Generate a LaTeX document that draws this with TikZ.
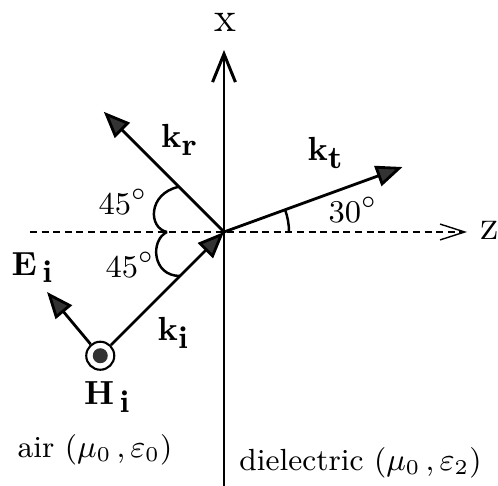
\documentclass[tikz,border=0pt]{standalone}
\usetikzlibrary{arrows.meta}
\tikzset{
  wavearr/.style  = {-{Triangle[length=7.5pt,width=6pt,fill=black!80]},line width=0.8pt},
  axisbar/.style  = {-{Straight Barb[length=8pt,width=6.5pt]},line width=0.85pt},
  axisdash/.style = {-{Straight Barb[length=7pt,width=4.5pt]},line width=0.4pt,dash pattern=on 2pt off 1.3pt},
  anglearc/.style = {line width=0.7pt},
  hsym/.style     = {circle,draw,line width=0.6pt,minimum size=0.28cm,inner sep=0pt},
  medium/.style   = {font=\fontsize{8.7}{10}\selectfont}
}
\newcommand{\bvec}[2]{\textbf{#1}\raisebox{-0.5ex}{\small\textbf{#2}}}

\begin{document}
\begin{tikzpicture}[x=0.01cm,y=0.01cm,font=\fontsize{9.5}{11}\selectfont]
  \useasboundingbox (-224,-254) rectangle (274,232);
  \coordinate (O) at (0,0);
  \coordinate (zbeg) at (-194,0);
  \coordinate (ztip) at (243,0);
  \coordinate (xbot) at (0,-254);
  \coordinate (xtip) at (0,182);
  \coordinate (kr) at (135:170);
  \coordinate (kt) at (20:190);
  \coordinate (Ei) at (-177,-60);
  \node[hsym] (Hi) at (225:175) {};
  \fill[black!80] (Hi) circle (7.5);
  \draw[axisdash] (zbeg) -- (ztip);
  \draw[axisbar] (xbot) -- (xtip);
  \draw[wavearr] (O) -- (kr);
  \draw[wavearr] (O) -- (kt);
  \draw[wavearr] (Hi) -- (O);
  \draw[wavearr] (Hi) -- (Ei);
  \draw[anglearc] (-46,45) .. controls (-76,38) and (-76,4) .. (-57,0);
  \draw[anglearc] (-57,0) .. controls (-74,-8) and (-72,-44) .. (-44,-44);
  \draw[anglearc] (65,0) arc (0:20:65);
  \node (xlab) at (1,210) {\large x};
  \node (zlab) at (266,2) {\large z};
  \node (krlab) at (-45,92) {\bvec{k}{r}};
  \node (ktlab) at (101,79) {\bvec{k}{t}};
  \node (kilab) at (-51,-101) {\bvec{k}{i}};
  \node (Eilab) at (-192,-36) {\bvec{E}{\,i}};
  \node (Hilab) at (-117,-165) {\bvec{H}{\,i}};
  \node (aup) at (-101,30) {$45^\circ$};
  \node (alow) at (-94,-33) {$45^\circ$};
  \node (atr) at (129,22) {$30^\circ$};
  \node[medium] (air) at (-129,-218) {air ($\mu_0$\,,\,$\varepsilon_0$)};
  \node[medium,anchor=east] (diel) at (270,-231) {dielectric ($\mu_0$\,,\,$\varepsilon_2$)};
\end{tikzpicture}
\end{document}
